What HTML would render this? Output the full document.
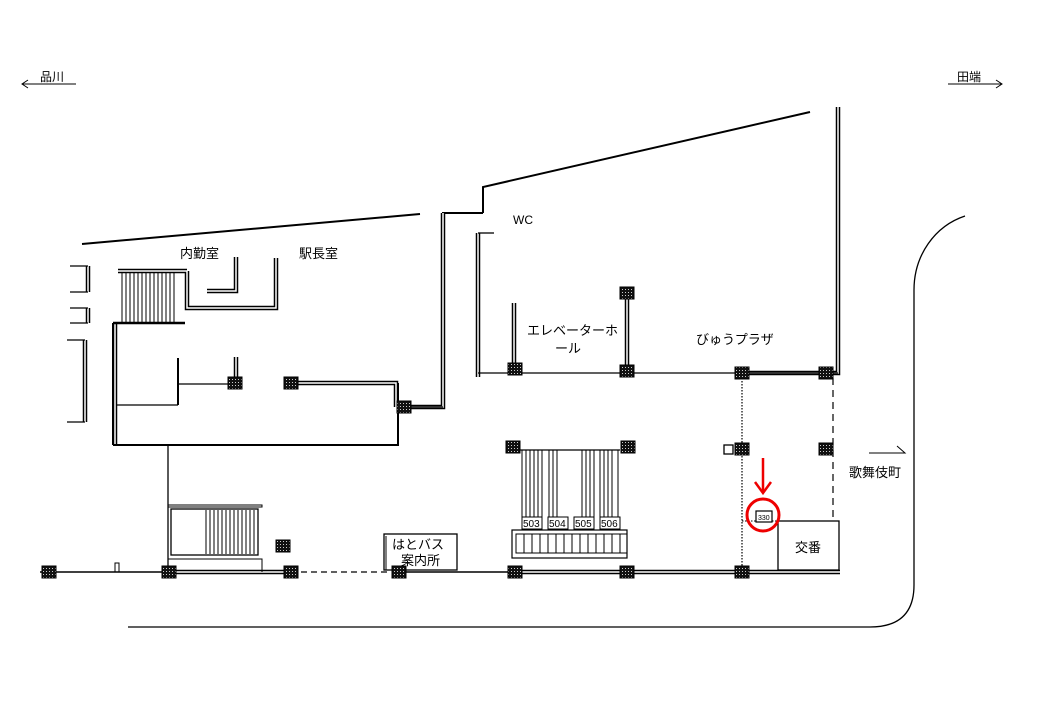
<!DOCTYPE html>
<html><head><meta charset="utf-8"><style>
html,body{margin:0;padding:0;background:#fff;}
svg{display:block}
text{font-family:"Liberation Sans","Noto Sans CJK JP",sans-serif;fill:#000}
</style></head><body>
<svg width="1040" height="720" viewBox="0 0 1040 720" xmlns="http://www.w3.org/2000/svg">
<defs>
<pattern id="hp" width="3" height="3" patternUnits="userSpaceOnUse"><rect width="3" height="3" fill="#111"/><rect x="1" y="1" width="1" height="1" fill="#ccc"/></pattern>
</defs>
<g fill="none" stroke="#000">
<line x1="82" y1="244" x2="420" y2="214" stroke-width="2"/>
<polyline points="483,213 483,187 810,112" stroke-width="2"/>
<polyline points="443,407 443,213 483,213" stroke-width="2"/>
<g stroke-width="4.5">
<polyline points="838,107 838,373 748,373"/>
<polyline points="443,213 443,407 408,407"/>
<polyline points="291,383 396,383 396,407"/>
<polyline points="115,323 115,445"/>
<polyline points="187,271 187,308 276,308 276,258"/>
<polyline points="207,291 236,291 236,257"/>
<line x1="118" y1="271" x2="187" y2="271"/>
<line x1="168" y1="572" x2="291" y2="572"/>
<line x1="515" y1="572" x2="840" y2="572"/>
<line x1="627" y1="295" x2="627" y2="371"/>
<line x1="236" y1="357" x2="236" y2="381"/>
<line x1="514" y1="303" x2="514" y2="368"/>
<line x1="88" y1="266" x2="88" y2="292"/>
<line x1="88" y1="308" x2="88" y2="323"/>
<line x1="85" y1="340" x2="85" y2="422"/>
<line x1="478" y1="233" x2="478" y2="377"/>
</g>
<g stroke="#fff" stroke-width="1.5">
<polyline points="838,107 838,373 748,373"/>
<polyline points="443,213 443,407 408,407"/>
<polyline points="291,383 396,383 396,407"/>
<polyline points="115,323 115,445"/>
<polyline points="187,271 187,308 276,308 276,258"/>
<polyline points="207,291 236,291 236,257"/>
<line x1="118" y1="271" x2="187" y2="271"/>
<line x1="168" y1="572" x2="291" y2="572"/>
<line x1="515" y1="572" x2="840" y2="572"/>
<line x1="627" y1="295" x2="627" y2="371"/>
<line x1="236" y1="357" x2="236" y2="381"/>
<line x1="514" y1="303" x2="514" y2="368"/>
<line x1="88" y1="266" x2="88" y2="292"/>
<line x1="88" y1="308" x2="88" y2="323"/>
<line x1="85" y1="340" x2="85" y2="422"/>
<line x1="478" y1="233" x2="478" y2="377"/>
</g>
<g stroke-width="1.3">
<polyline points="70,266 88,266"/><polyline points="70,292 88,292"/>
<polyline points="70,308 88,308"/><polyline points="70,323 88,323"/>
<polyline points="67,340 85,340"/><polyline points="67,422 85,422"/>
<line x1="478" y1="233" x2="494" y2="233"/>
<line x1="478" y1="373" x2="838" y2="373"/>
</g>
<line x1="113" y1="323" x2="185" y2="323" stroke-width="2.5"/>
<polyline points="113,445 398,445 398,383" stroke-width="2"/>
<line x1="113" y1="323" x2="113" y2="445" stroke-width="2"/>
<line x1="178" y1="358" x2="178" y2="405" stroke-width="2"/>
<line x1="178" y1="384" x2="235" y2="384" stroke-width="1.3"/>
<line x1="117" y1="405" x2="178" y2="405" stroke-width="1.3"/>
<line x1="408" y1="407" x2="443" y2="407" stroke-width="1.3"/>
<g stroke-width="1">
<line x1="122" y1="273" x2="122" y2="322"/><line x1="126" y1="273" x2="126" y2="322"/><line x1="130" y1="273" x2="130" y2="322"/><line x1="134" y1="273" x2="134" y2="322"/><line x1="138" y1="273" x2="138" y2="322"/><line x1="142" y1="273" x2="142" y2="322"/><line x1="146" y1="273" x2="146" y2="322"/><line x1="150" y1="273" x2="150" y2="322"/><line x1="154" y1="273" x2="154" y2="322"/><line x1="158" y1="273" x2="158" y2="322"/><line x1="162" y1="273" x2="162" y2="322"/><line x1="166" y1="273" x2="166" y2="322"/><line x1="170" y1="273" x2="170" y2="322"/><line x1="174" y1="273" x2="174" y2="322"/>
</g>
<line x1="168" y1="445" x2="168" y2="572" stroke-width="1.3"/>
<rect x="168" y="505" width="94" height="2" stroke-width="1"/>
<rect x="171" y="509" width="87" height="46" stroke-width="1.3"/>
<g stroke-width="1">
<line x1="206" y1="510" x2="206" y2="554"/><line x1="210" y1="510" x2="210" y2="554"/><line x1="214" y1="510" x2="214" y2="554"/><line x1="218" y1="510" x2="218" y2="554"/><line x1="222" y1="510" x2="222" y2="554"/><line x1="226" y1="510" x2="226" y2="554"/><line x1="230" y1="510" x2="230" y2="554"/><line x1="234" y1="510" x2="234" y2="554"/><line x1="238" y1="510" x2="238" y2="554"/><line x1="242" y1="510" x2="242" y2="554"/><line x1="246" y1="510" x2="246" y2="554"/><line x1="250" y1="510" x2="250" y2="554"/><line x1="254" y1="510" x2="254" y2="554"/>
</g>
<polyline points="168,559 262,559 262,572" stroke-width="1"/>
<line x1="40" y1="572" x2="168" y2="572" stroke-width="1.5"/>
<line x1="291" y1="572" x2="388" y2="572" stroke-width="1.3" stroke-dasharray="6,4"/>
<line x1="399" y1="572" x2="515" y2="572" stroke-width="1.5"/>
<rect x="115" y="563" width="4" height="9" stroke-width="1"/>
<rect x="384" y="534" width="73" height="36" stroke-width="1.3" fill="#fff"/>
<line x1="386" y1="536" x2="386" y2="570" stroke-width="1"/>
<line x1="520" y1="450" x2="620" y2="450" stroke-width="1.3"/>
<g stroke-width="1">
<line x1="522" y1="450" x2="522" y2="518"/><line x1="526" y1="450" x2="526" y2="518"/><line x1="530" y1="450" x2="530" y2="518"/><line x1="534" y1="450" x2="534" y2="518"/><line x1="538" y1="450" x2="538" y2="518"/><line x1="542" y1="450" x2="542" y2="518"/><line x1="549" y1="450" x2="549" y2="518"/><line x1="553" y1="450" x2="553" y2="518"/><line x1="557" y1="450" x2="557" y2="518"/><line x1="582" y1="450" x2="582" y2="518"/><line x1="586" y1="450" x2="586" y2="518"/><line x1="590" y1="450" x2="590" y2="518"/><line x1="594" y1="450" x2="594" y2="518"/><line x1="600" y1="450" x2="600" y2="518"/><line x1="604" y1="450" x2="604" y2="518"/><line x1="608" y1="450" x2="608" y2="518"/><line x1="612" y1="450" x2="612" y2="518"/><line x1="618" y1="450" x2="618" y2="518"/>
</g>
<g stroke-width="1" fill="#fff">
<rect x="522" y="517" width="20" height="12"/><rect x="548" y="517" width="20" height="12"/><rect x="574" y="517" width="20" height="12"/><rect x="600" y="517" width="20" height="12"/>
</g>
<rect x="512" y="530" width="115" height="28" stroke-width="1.2"/>
<rect x="516" y="534" width="111" height="19" stroke-width="1"/>
<g stroke-width="1">
<line x1="524" y1="534" x2="524" y2="553"/><line x1="532" y1="534" x2="532" y2="553"/><line x1="540" y1="534" x2="540" y2="553"/><line x1="548" y1="534" x2="548" y2="553"/><line x1="556" y1="534" x2="556" y2="553"/><line x1="564" y1="534" x2="564" y2="553"/><line x1="572" y1="534" x2="572" y2="553"/><line x1="580" y1="534" x2="580" y2="553"/><line x1="588" y1="534" x2="588" y2="553"/><line x1="596" y1="534" x2="596" y2="553"/><line x1="604" y1="534" x2="604" y2="553"/><line x1="612" y1="534" x2="612" y2="553"/><line x1="620" y1="534" x2="620" y2="553"/>
</g>
<line x1="742" y1="378" x2="742" y2="572" stroke-width="1.2" stroke-dasharray="1.5,1.5"/>
<line x1="833" y1="378" x2="833" y2="521" stroke-width="1.2" stroke-dasharray="7,5"/>
<line x1="742" y1="521" x2="778" y2="521" stroke-width="1" stroke-dasharray="1.5,1.5"/>
<rect x="778" y="521" width="61" height="49" stroke-width="1.3" fill="#fff"/>
<rect x="724" y="445" width="9" height="9" stroke-width="1.3" fill="#fff"/>
<rect x="756" y="511" width="16" height="11" stroke-width="1.2" fill="#fff"/>
<path d="M965,216 C935,226 914,255 914,290 L914,585 Q914,627 870,627 L128,627" stroke-width="1.3"/>
<polyline points="22,84 76,84" stroke-width="1"/><polyline points="28,80 22,84 28,88" stroke-width="1"/>
<polyline points="948,84 1002,84" stroke-width="1"/><polyline points="996,80 1002,84 996,88" stroke-width="1"/>
<line x1="869" y1="453" x2="905" y2="453" stroke-width="1"/>
<polyline points="897,446 905,453 897,453" stroke-width="1"/>
<circle cx="763" cy="515" r="16" stroke="#e00" stroke-width="3"/>
<line x1="763" y1="458" x2="763" y2="491" stroke="#e00" stroke-width="2.5"/>
<polyline points="755,482 763,493 771,482" stroke="#e00" stroke-width="2.5"/>
</g>
<g fill="url(#hp)" stroke="#000" stroke-width="1">
<rect x="228" y="377" width="14" height="12"/><rect x="284" y="377" width="14" height="12"/><rect x="397" y="401" width="14" height="12"/>
<rect x="508" y="363" width="14" height="12"/><rect x="620" y="287" width="14" height="12"/><rect x="620" y="365" width="14" height="12"/>
<rect x="735" y="367" width="14" height="12"/><rect x="819" y="367" width="14" height="12"/>
<rect x="506" y="441" width="14" height="12"/><rect x="621" y="441" width="14" height="12"/><rect x="735" y="443" width="14" height="12"/><rect x="819" y="443" width="14" height="12"/>
<rect x="42" y="566" width="14" height="12"/><rect x="162" y="566" width="14" height="12"/><rect x="284" y="566" width="14" height="12"/><rect x="392" y="566" width="14" height="12"/>
<rect x="508" y="566" width="14" height="12"/><rect x="620" y="566" width="14" height="12"/><rect x="735" y="566" width="14" height="12"/><rect x="276" y="540" width="14" height="12"/>
</g>
<text x="40" y="81" font-size="12">品川</text>
<text x="957" y="81" font-size="12">田端</text>
<text x="180" y="258" font-size="13">内勤室</text>
<text x="299" y="258" font-size="13">駅長室</text>
<text x="513" y="224" font-size="12">WC</text>
<text x="527" y="335" font-size="13">エレベーターホ</text>
<text x="555" y="353" font-size="13">ール</text>
<text x="696" y="344" font-size="13">びゅうプラザ</text>
<text x="849" y="477" font-size="13">歌舞伎町</text>
<text x="795" y="552" font-size="13">交番</text>
<text x="392" y="549" font-size="13">はとバス</text>
<text x="401" y="565" font-size="13">案内所</text>
<g font-size="10"><text x="523" y="527">503</text><text x="549" y="527">504</text><text x="575" y="527">505</text><text x="601" y="527">506</text></g>
<text x="758" y="520" font-size="7">330</text>
</svg>
</body></html>
